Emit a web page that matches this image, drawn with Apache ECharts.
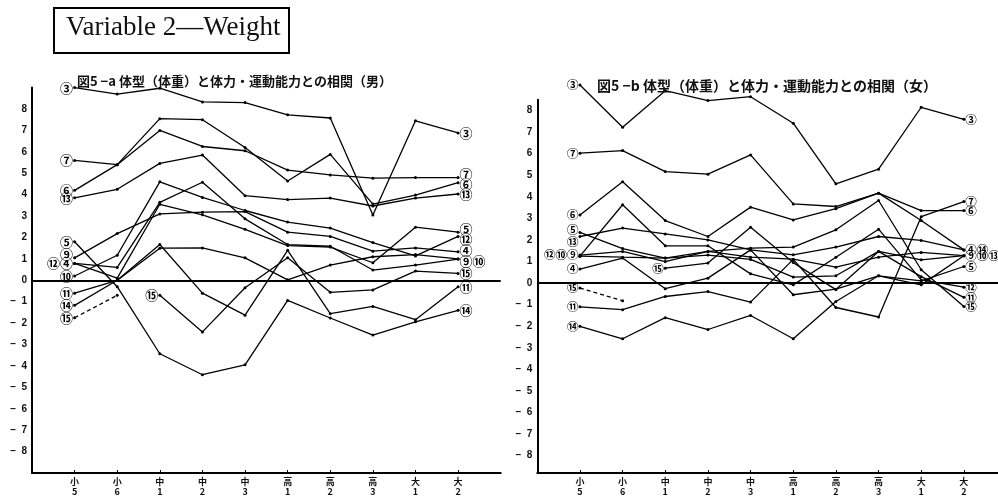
<!DOCTYPE html>
<html>
<head>
<meta charset="utf-8">
<script src="https://cdn.jsdelivr.net/npm/echarts@6/dist/echarts.min.js"></script>
<style>
html,body{margin:0;padding:0;background:#fff;}
#c{width:998px;height:497px;}
</style>
</head>
<body>
<div id="c"></div>
<script>
// ---- categories / ticks ----
const xTop = ['小','小','中','中','中','高','高','高','大','大'];
const xNum = ['5','6','1','2','3','1','2','3','1','2'];
const yTicks = [-8,-7,-6,-5,-4,-3,-2,-1,0,1,2,3,4,5,6,7,8];

// ---- 図5-a (男) ----
const maleS3  = [9.0, 8.7, 8.97, 8.33, 8.3, 7.73, 7.58, 3.05, 7.45, 6.88];
const maleS7  = [5.6, 5.4, 7.0, 6.25, 6.05, 5.15, 4.92, 4.77, 4.8, 4.8];
const maleS6  = [4.2, 5.4, 7.55, 7.5, 6.2, 4.64, 5.88, 3.56, 3.98, 4.56];
const maleS13 = [3.85, 4.25, 5.46, 5.85, 3.95, 3.77, 3.84, 3.47, 3.84, 4.03];
const maleS5  = [1.8, -0.3, -3.43, -4.41, -3.95, -0.94, -1.76, -2.56, -1.94, -1.4];
const maleS9  = [1.05, 2.18, 3.1, 3.18, 3.21, 2.25, 2.05, 1.36, 1.51, 1.33];
const maleS10 = [0.2, 1.17, 4.6, 3.87, 3.26, 2.72, 2.44, 1.76, 1.14, 2.05];
const maleS4  = [0.79, 0.6, 3.64, 4.58, 2.87, 1.67, 1.59, 0.48, 0.71, 0.99];
const maleS12 = [0.79, 0.1, 3.55, 3.06, 2.38, 1.62, 1.55, 0.82, 2.48, 2.25];
const maleS14 = [-1.17, 0.0, 1.5, 1.51, 1.05, 0.02, 0.71, 1.1, 1.2, 1.0];
const maleS11 = [-0.6, 0.0, 1.67, -0.6, -1.63, 1.4, -1.56, -1.22, -1.84, -0.3];
const maleS15a = [-1.75, -0.7, null, null, null, null, null, null, null, null];
const maleS15 = [null, null, -0.7, -2.41, -0.35, 1.05, -0.56, -0.45, 0.43, 0.32];
const maleSeries = [maleS3, maleS7, maleS6, maleS13, maleS5, maleS9, maleS10, maleS4, maleS12, maleS14, maleS11, maleS15a, maleS15];
const maleStart = ['③','⑦','⑥','⑬','⑤','⑨','⑩','⑫④','','⑭','⑪','⑮','⑮'];
const maleEnd   = ['③','⑦','⑥','⑬','⑭','④','⑫','⑨⑩','⑤','','⑪','','⑮'];
const maleDashed = [false,false,false,false,false,false,false,false,false,false,false,true,false];

// ---- 図5-b (女) ----
const femS3  = [9.18, 7.22, 8.92, 8.46, 8.64, 7.41, 4.6, 5.28, 8.15, 7.59];
const femS7  = [6.02, 6.14, 5.17, 5.05, 5.94, 3.67, 3.55, 4.17, 3.36, 3.36];
const femS6  = [3.16, 4.7, 2.9, 2.16, 3.52, 2.93, 3.45, 4.17, 2.9, 1.54];
const femS5  = [2.35, 1.6, 1.16, 1.47, 1.2, 1.11, 0.74, 1.2, 1.42, 1.27];
const femS13 = [2.16, 2.55, 2.28, 2.0, 1.54, 1.31, 1.67, 2.16, 1.98, 1.54];
const femS9  = [1.3, 1.47, 1.0, 1.47, 1.62, 1.67, 2.47, 3.83, 0.62, -1.08];
const femS12 = [1.25, 3.63, 1.73, 1.73, 0.43, -0.08, 1.2, 2.5, 0.15, -0.19];
const femS10 = [1.25, 1.2, 1.16, 1.3, 1.1, 0.28, 0.34, 1.47, 1.08, 1.27];
const femS4  = [0.65, 1.16, -0.26, 0.23, 1.54, -0.54, -0.28, 0.34, 0.1, 0.77];
const femS15a = [-0.23, -0.82, null, null, null, null, null, null, null, null];
const femS15 = [null, null, 0.69, 0.93, 2.59, 0.95, -0.3, 1.47, 0.3, -0.66];
const femS11 = [-1.1, -1.23, -0.62, -0.39, -0.88, 1.1, -1.13, -1.57, 3.08, 3.78];
const femS14 = [-2.0, -2.58, -1.6, -2.15, -1.5, -2.58, -0.85, 0.34, -0.08, 1.27];
const femSeries = [femS3, femS7, femS6, femS5, femS13, femS9, femS12, femS10, femS4, femS15a, femS15, femS11, femS14];
const femStart = ['③','⑦','⑥','⑤','⑬','⑫⑩⑨','','','④','⑮','⑮','⑪','⑭'];
const femEnd   = ['③','⑥','④⑭','⑨⑩⑬','','⑮','⑫','','⑤','','⑪','⑦',''];
const femDashed = [false,false,false,false,false,false,false,false,false,true,false,false,false];

const titleA = '図5 −a 体型（体重）と体力・運動能力との相関（男）';
const titleB = '図5 −b 体型（体重）と体力・運動能力との相関（女）';
const boxText = 'Variable 2—Weight';

// ---- label styling (vertical nudges to keep crowded labels apart) ----
const CJK = '"Noto Sans CJK JP", "Noto Sans CJK SC", sans-serif';
const labelNudge = {
  'a:start:⑨': -4, 'a:end:⑦': -3, 'a:end:⑥': 1, 'a:end:⑤': -3, 'a:end:⑫': 3,
  'a:end:④': -2, 'a:end:⑨⑩': 2,
  'b:start:⑤': -3, 'b:start:⑬': 5
};

function buildSeries(arrs, starts, ends, dashed, gi, key, fs) {
  const base = {show: true, fontFamily: CJK, fontSize: fs, fontWeight: 'bold', color: '#000', distance: 0};
  return arrs.map((arr, si) => {
    const idx = [];
    arr.forEach((v, i) => { if (v !== null) idx.push(i); });
    const first = idx[0], last = idx[idx.length - 1];
    const data = idx.map(i => {
      const item = {value: [i, arr[i]]};
      if (i === first && starts[si]) {
        item.label = Object.assign({}, base, {position: 'left', formatter: starts[si],
          offset: [0, labelNudge[key + ':start:' + starts[si]] || 0]});
      } else if (i === last && ends[si]) {
        item.label = Object.assign({}, base, {position: 'right', formatter: ends[si],
          offset: [0, labelNudge[key + ':end:' + ends[si]] || 0]});
      }
      return item;
    });
    const s = {
      type: 'line', xAxisIndex: gi, yAxisIndex: gi, data: data,
      symbol: 'circle', symbolSize: 3, clip: false, animation: false,
      lineStyle: {color: '#000', width: 1.3, type: dashed[si] ? [4, 3] : 'solid'},
      itemStyle: {color: '#000'},
      label: {show: false}, emphasis: {disabled: true}, z: 3
    };
    if (si === 0) {
      s.markLine = {
        silent: true, symbol: 'none', animation: false,
        label: {show: false},
        lineStyle: {color: '#000', width: 2, type: 'solid'},
        data: [{yAxis: 0}]
      };
    }
    return s;
  });
}

const yLabel = {
  customValues: yTicks, fontSize: 10, fontWeight: 'bold', color: '#111',
  fontFamily: 'Liberation Sans', margin: 5,
  formatter: v => v < 0 ? '–  ' + Math.abs(v) : String(v)
};
const xLabel = {
  customValues: [0,1,2,3,4,5,6,7,8,9], fontSize: 9, fontWeight: 'bold', color: '#111',
  fontFamily: CJK, lineHeight: 10, margin: 4,
  formatter: v => xTop[v] + '\n' + xNum[v]
};
function yAxisCfg(gi, min, max) {
  return {type: 'value', gridIndex: gi, min: min, max: max,
    axisLine: {show: true, onZero: false, lineStyle: {color: '#000', width: 2}},
    axisTick: {show: false}, splitLine: {show: false}, axisLabel: yLabel};
}
function xAxisCfg(gi, min, max) {
  return {type: 'value', gridIndex: gi, min: min, max: max,
    axisLine: {show: true, onZero: false, lineStyle: {color: '#000', width: 2}},
    axisTick: {show: true, inside: true, length: 3, customValues: [0,1,2,3,4,5,6,7,8,9], lineStyle: {color: '#000', width: 1}},
    splitLine: {show: false}, axisLabel: xLabel};
}

const chart = echarts.init(document.getElementById('c'), null, {renderer: 'canvas'});
chart.setOption({
  backgroundColor: '#fff',
  animation: false,
  title: [
    {text: titleA, left: 77, top: 75, padding: 0,
     textStyle: {fontFamily: CJK, fontSize: 13, fontWeight: 'bold', color: '#111'}},
    {text: titleB, left: 597, top: 79, padding: 0,
     textStyle: {fontFamily: CJK, fontSize: 14, fontWeight: 'bold', color: '#111'}}
  ],
  grid: [
    {left: 32, top: 87.6, width: 468.7, height: 388.8},
    {left: 537.3, top: 99.7, width: 460.8, height: 373.7}
  ],
  xAxis: [xAxisCfg(0, -1, 10), xAxisCfg(1, -1, 9.8)],
  yAxis: [yAxisCfg(0, -9, 9), yAxisCfg(1, -8.8, 8.5)],
  series: buildSeries(maleSeries, maleStart, maleEnd, maleDashed, 0, 'a', 13)
    .concat(buildSeries(femSeries, femStart, femEnd, femDashed, 1, 'b', 11.5)),
  graphic: [
    {type: 'rect', left: 53, top: 7, shape: {width: 235, height: 45},
     style: {fill: '#fff', stroke: '#000', lineWidth: 2}},
    {type: 'text', left: 66, top: 14,
     style: {text: boxText, font: '27px "Liberation Serif", "DejaVu Serif", serif', fill: '#111'}}
  ]
});
</script>
</body>
</html>
